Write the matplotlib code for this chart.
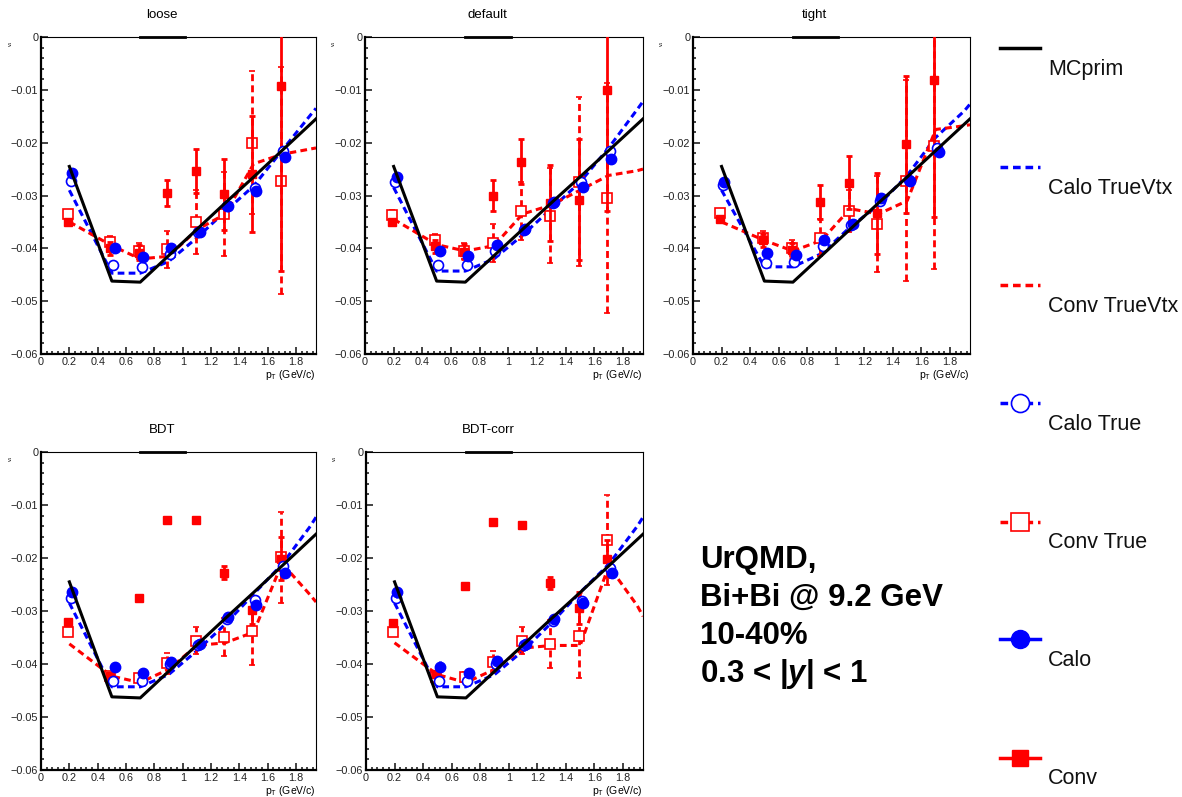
import numpy as np
import matplotlib.pyplot as plt
from matplotlib.lines import Line2D
from matplotlib.ticker import MultipleLocator, FuncFormatter

plt.rcParams['font.family'] = ['Liberation Sans', 'DejaVu Sans']
plt.rcParams['mathtext.fontset'] = 'custom'
plt.rcParams['mathtext.rm'] = 'Liberation Sans'
plt.rcParams['mathtext.it'] = 'Liberation Sans:italic:bold'
plt.rcParams['mathtext.bf'] = 'Liberation Sans:bold'

# ---- data ----
panels = ["loose", "default", "tight", "BDT", "BDT-corr"]

pt_line = [0.2, 0.5, 0.7, 0.9, 1.1, 1.3, 1.5, 1.7, 1.9, 1.94]
pt_conv = [0.19, 0.49, 0.69, 0.89, 1.09, 1.29, 1.49, 1.69]
pt_calo_true = [0.21, 0.51, 0.71, 0.91, 1.11, 1.31, 1.51, 1.71]
pt_calo = [0.22, 0.52, 0.72, 0.92, 1.12, 1.32, 1.52, 1.72]

mc_prim = [-0.0245, -0.0462, -0.0464, -0.0414, -0.0364, -0.0314, -0.0265, -0.0215, -0.0165, -0.0155]

calo_truevtx = [
    [-0.0290, -0.0447, -0.0447, -0.0425, -0.0380, -0.0330, -0.0282, -0.0215, -0.0148, -0.0135],
    [-0.0285, -0.0443, -0.0443, -0.0420, -0.0375, -0.0325, -0.0275, -0.0210, -0.0137, -0.0122],
    [-0.0290, -0.0435, -0.0435, -0.0410, -0.0360, -0.0318, -0.0262, -0.0190, -0.0140, -0.0127],
    [-0.0285, -0.0443, -0.0443, -0.0420, -0.0375, -0.0325, -0.0268, -0.0212, -0.0140, -0.0123],
    [-0.0285, -0.0443, -0.0443, -0.0420, -0.0375, -0.0322, -0.0265, -0.0212, -0.0140, -0.0123],
]
conv_truevtx = [
    [-0.0350, -0.0395, -0.0420, -0.0415, -0.0365, -0.0335, -0.0240, -0.0222, -0.0212, -0.0210],
    [-0.0345, -0.0393, -0.0405, -0.0395, -0.0335, -0.0318, -0.0290, -0.0262, -0.0253, -0.0250],
    [-0.0350, -0.0385, -0.0405, -0.0385, -0.0325, -0.0335, -0.0310, -0.0175, -0.0168, -0.0166],
    [-0.0362, -0.0423, -0.0435, -0.0410, -0.0365, -0.0360, -0.0340, -0.0210, -0.0270, -0.0283],
    [-0.0360, -0.0420, -0.0435, -0.0410, -0.0370, -0.0365, -0.0365, -0.0215, -0.0290, -0.0310],
]

calo = [
    [-0.0257, -0.0400, -0.0417, -0.0400, -0.0370, -0.0320, -0.0292, -0.0228],
    [-0.0265, -0.0405, -0.0415, -0.0393, -0.0363, -0.0312, -0.0283, -0.0230],
    [-0.0275, -0.0408, -0.0412, -0.0385, -0.0353, -0.0305, -0.0272, -0.0218],
    [-0.0265, -0.0405, -0.0417, -0.0397, -0.0363, -0.0312, -0.0288, -0.0228],
    [-0.0265, -0.0405, -0.0417, -0.0395, -0.0363, -0.0315, -0.0285, -0.0228],
]
calo_err = [0.0006, 0.0006, 0.0007, 0.0008, 0.0010, 0.0012, 0.0020, 0.0028]

calo_true = [
    [-0.0273, -0.0432, -0.0435, -0.0410, -0.0370, -0.0320, -0.0285, -0.0215],
    [-0.0275, -0.0432, -0.0432, -0.0405, -0.0365, -0.0315, -0.0275, -0.0215],
    [-0.0280, -0.0428, -0.0425, -0.0395, -0.0355, -0.0310, -0.0270, -0.0210],
    [-0.0275, -0.0432, -0.0432, -0.0400, -0.0365, -0.0315, -0.0280, -0.0215],
    [-0.0275, -0.0432, -0.0432, -0.0400, -0.0365, -0.0318, -0.0282, -0.0218],
]
calo_true_err = [0.0006, 0.0006, 0.0007, 0.0008, 0.0010, 0.0012, 0.0020, 0.0028]

conv = [
    [-0.0350, -0.0400, -0.0408, -0.0295, -0.0254, -0.0298, -0.0259, -0.0092],
    [-0.0350, -0.0396, -0.0406, -0.0300, -0.0236, -0.0314, -0.0308, -0.0100],
    [-0.0344, -0.0385, -0.0404, -0.0312, -0.0276, -0.0334, -0.0203, -0.0081],
    [-0.0321, -0.0423, -0.0275, -0.0128, -0.0128, -0.0228, -0.0299, -0.0201],
    [-0.0323, -0.0418, -0.0252, -0.0133, -0.0138, -0.0247, -0.0294, -0.0201],
]
conv_err = [
    [0.0005, 0.0012, 0.0015, 0.0025, 0.0042, 0.0068, 0.0110, 0.0350],
    [0.0005, 0.0012, 0.0015, 0.0030, 0.0042, 0.0072, 0.0115, 0.0230],
    [0.0005, 0.0012, 0.0015, 0.0032, 0.0050, 0.0076, 0.0130, 0.0260],
    [0.0003, 0.0005, 0.0003, 0.0002, 0.0002, 0.0012, 0.0025, 0.0040],
    [0.0003, 0.0005, 0.0003, 0.0002, 0.0002, 0.0012, 0.0030, 0.0035],
]

conv_true = [
    [-0.0335, -0.0388, -0.0405, -0.0402, -0.0350, -0.0335, -0.0200, -0.0272],
    [-0.0336, -0.0384, -0.0405, -0.0390, -0.0330, -0.0338, -0.0274, -0.0305],
    [-0.0334, -0.0380, -0.0400, -0.0380, -0.0329, -0.0354, -0.0272, -0.0206],
    [-0.0339, -0.0423, -0.0426, -0.0399, -0.0356, -0.0349, -0.0337, -0.0199],
    [-0.0340, -0.0424, -0.0424, -0.0396, -0.0356, -0.0362, -0.0348, -0.0166],
]
conv_true_err = [
    [0.0008, 0.0012, 0.0015, 0.0035, 0.0060, 0.0080, 0.0135, 0.0215],
    [0.0008, 0.0012, 0.0015, 0.0036, 0.0055, 0.0090, 0.0160, 0.0217],
    [0.0008, 0.0012, 0.0015, 0.0035, 0.0040, 0.0090, 0.0190, 0.0233],
    [0.0008, 0.0008, 0.0008, 0.0020, 0.0025, 0.0035, 0.0065, 0.0085],
    [0.0008, 0.0008, 0.0008, 0.0020, 0.0025, 0.0045, 0.0078, 0.0085],
]

legend_labels = ["MCprim", "Calo TrueVtx", "Conv TrueVtx", "Calo True", "Conv True", "Calo", "Conv"]

W, H = 1182, 797
DASH = (2.2, 1.4)


def draw_panel(ax, k):
    ax.plot(pt_line, calo_truevtx[k], color='blue', lw=2.2, dashes=DASH, zorder=2)
    ax.plot(pt_line, conv_truevtx[k], color='red', lw=2.2, dashes=DASH, zorder=2)

    eb = ax.errorbar(pt_conv, conv_true[k], yerr=conv_true_err[k], fmt='s', ms=6.8,
                     mfc='white', mec='red', mew=1.2, ecolor='red', elinewidth=2,
                     capsize=2, capthick=2, zorder=3)
    eb[2][0].set_linestyle((0, (2.5, 1.5)))
    ax.errorbar(pt_conv, conv[k], yerr=conv_err[k], fmt='s', ms=6.3, color='red',
                elinewidth=2, capsize=2, capthick=2, zorder=4)

    eb = ax.errorbar(pt_calo_true, calo_true[k], yerr=calo_true_err[k], fmt='o', ms=7.2,
                     mfc='white', mec='blue', mew=1.2, ecolor='blue', elinewidth=2,
                     capsize=0, zorder=5)
    eb[2][0].set_linestyle((0, (2.5, 1.5)))
    ax.errorbar(pt_calo, calo[k], yerr=calo_err[k], fmt='o', ms=7.5, color='blue',
                elinewidth=2, capsize=0, zorder=6)

    ax.plot(pt_line, mc_prim, color='black', lw=2.2, zorder=7)

    ax.set_xlim(0, 1.94)
    ax.set_ylim(-0.06, 0)
    ax.xaxis.set_major_locator(MultipleLocator(0.2))
    ax.xaxis.set_minor_locator(MultipleLocator(0.04))
    ax.yaxis.set_major_locator(MultipleLocator(0.01))
    ax.yaxis.set_minor_locator(MultipleLocator(0.002))
    ax.xaxis.set_major_formatter(FuncFormatter(lambda v, p: f'{v:g}'))
    ax.yaxis.set_major_formatter(FuncFormatter(
        lambda v, p: '0' if abs(v) < 1e-9 else f'{v:.2f}'.replace('-', '\u2212')))
    ax.tick_params(which='both', direction='in', top=False, right=False,
                   labelsize=7.8, pad=2, colors='#222222', width=1.2)
    ax.tick_params(which='major', length=5)
    ax.tick_params(which='minor', length=2.5)
    for s in ['left', 'bottom']:
        ax.spines[s].set_linewidth(1.6)
    for s in ['top', 'right']:
        ax.spines[s].set_linewidth(0.8)

    ax.plot([0.36, 0.525], [1, 1], transform=ax.transAxes, color='black', lw=2,
            clip_on=False, zorder=8)
    ax.set_title(panels[k], fontsize=9.5, x=0.44, pad=14)
    ax.set_xlabel(r'p$_\mathrm{T}$ (GeV/c)', fontsize=7.5, ha='right')
    ax.xaxis.set_label_coords(1.0, -0.045)
    ax.text(-0.11, 0.99, r'v$_1$', transform=ax.transAxes, rotation=90, fontsize=4,
            ha='center', va='top')


fig = plt.figure(figsize=(W / 100, H / 100), dpi=100)

rects = [(41, 37, 275, 317), (365, 37, 278, 317), (693, 37, 277, 317),
         (41, 452, 275, 318), (366, 452, 277, 318)]
for k, (x, y, w, h) in enumerate(rects):
    ax = fig.add_axes([x / W, 1 - (y + h) / H, w / W, h / H])
    draw_panel(ax, k)

# legend drawn ROOT-style: sample on top, label below-right
lax = fig.add_axes([985 / W, 0, 197 / W, 1])
lax.set_xlim(0, 197)
lax.set_ylim(H, 0)
lax.axis('off')
styles = [
    dict(color='black', lw=2.5),
    dict(color='blue', lw=2.5, dashes=DASH),
    dict(color='red', lw=2.5, dashes=DASH),
    dict(color='blue', lw=2.5, dashes=DASH, marker='o', ms=13, mfc='white', mec='blue', mew=1.2),
    dict(color='red', lw=2.5, dashes=DASH, marker='s', ms=13, mfc='white', mec='red', mew=1.2),
    dict(color='blue', lw=2.5, marker='o', ms=13),
    dict(color='red', lw=2.5, marker='s', ms=12),
]
sample_y = [48, 167, 285, 403, 522, 639, 758]
for lab, st, yy in zip(legend_labels, styles, sample_y):
    lax.add_line(Line2D([15, 35, 55], [yy, yy, yy], markevery=[1], **st))
    lax.text(63, yy + 21, lab, fontsize=15.5, va='center', ha='left', color='#111111')

info = ['UrQMD,', 'Bi+Bi @ 9.2 GeV', '10-40%', r'0.3 < |$y$| < 1']
for i, line in enumerate(info):
    fig.text(700 / W, 1 - (560 + 38 * i) / H, line, fontsize=22.5, fontweight='bold',
             va='center', ha='left')

fig.savefig('out.png', dpi=100)
